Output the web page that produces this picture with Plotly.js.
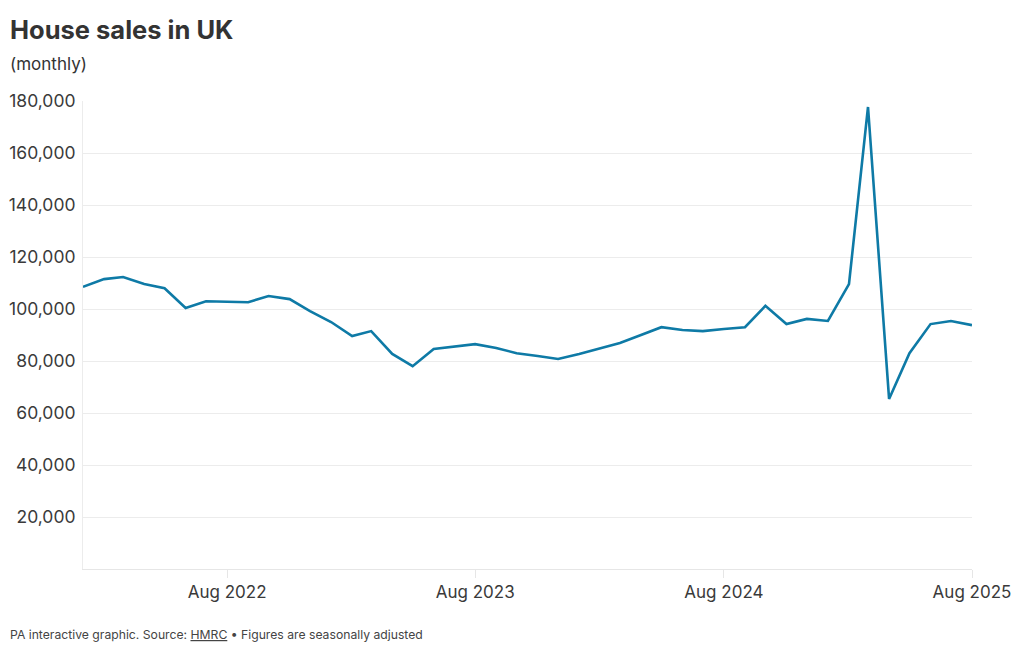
<!DOCTYPE html>
<html>
<head>
<meta charset="utf-8">
<script src="https://cdn.plot.ly/plotly-3.0.1.min.js"></script>
<style>
  html, body { margin: 0; padding: 0; background: #fff; }
  #chart { width: 1020px; height: 650px; }
</style>
</head>
<body>
<div id="chart"></div>
<script>
// Monthly dates Jan 2022 .. Aug 2025
const months = [
  "2022-01-01","2022-02-01","2022-03-01","2022-04-01","2022-05-01","2022-06-01",
  "2022-07-01","2022-08-01","2022-09-01","2022-10-01","2022-11-01","2022-12-01",
  "2023-01-01","2023-02-01","2023-03-01","2023-04-01","2023-05-01","2023-06-01",
  "2023-07-01","2023-08-01","2023-09-01","2023-10-01","2023-11-01","2023-12-01",
  "2024-01-01","2024-02-01","2024-03-01","2024-04-01","2024-05-01","2024-06-01",
  "2024-07-01","2024-08-01","2024-09-01","2024-10-01","2024-11-01","2024-12-01",
  "2025-01-01","2025-02-01","2025-03-01","2025-04-01","2025-05-01","2025-06-01",
  "2025-07-01","2025-08-01"
];
const sales = [
  108500, 111500, 112300, 109600, 108000, 100400,
  103000, 102700, 102600, 105000, 103800, 99200,
  95000, 89600, 91500, 82700, 78000, 84600,
  85400, 86500, 85000, 83000, 81900, 80800,
  82700, 85000, 86900, 90000, 93000, 91900,
  91500, 92300, 93000, 101200, 94200, 96200,
  95400, 109600, 177700, 65400, 83000, 94200,
  95400, 93800
];
const xTickVals = ["2022-08-01","2023-08-01","2024-08-01","2025-08-01"];
const xTickText = ["Aug 2022","Aug 2023","Aug 2024","Aug 2025"];
const yTickVals = [20000,40000,60000,80000,100000,120000,140000,160000,180000];
const yTickText = ["20,000","40,000","60,000","80,000","100,000","120,000","140,000","160,000","180,000"];

const FONT = "Inter, 'Noto Sans', sans-serif";
const L = 83, R = 48, T = 101, B = 81;
const W = 1020 - L - R, H = 650 - T - B;
const px = x => (x - L) / W;
const py = y => (650 - B - y) / H;

const trace = {
  x: months, y: sales, type: "scatter", mode: "lines",
  line: { color: "#0e7aa6", width: 2.6 },
  hoverinfo: "x+y"
};

const layout = {
  width: 1020, height: 650,
  margin: { l: L, r: R, t: T, b: B, pad: 0 },
  paper_bgcolor: "#ffffff", plot_bgcolor: "#ffffff",
  showlegend: false,
  font: { family: FONT, color: "#3a3a3a" },
  xaxis: {
    type: "date",
    range: ["2022-01-01", "2025-08-01"],
    tickmode: "array", tickvals: xTickVals, ticktext: xTickText,
    showgrid: false, zeroline: false,
    showline: true, linecolor: "#e6e6e6", linewidth: 1,
    ticks: "outside", ticklen: 8, tickcolor: "#e6e6e6", tickwidth: 1,
    tickfont: { family: FONT, size: 17, color: "#3a3a3a" },
    fixedrange: true
  },
  yaxis: {
    range: [0, 180000],
    tickmode: "array", tickvals: yTickVals, ticktext: yTickText,
    showgrid: true, gridcolor: "#ececec", gridwidth: 1,
    zeroline: false,
    showline: true, linecolor: "#ececec", linewidth: 1,
    ticks: "", ticklabelstandoff: 3,
    tickfont: { family: FONT, size: 17.5, color: "#3a3a3a" },
    fixedrange: true
  },
  annotations: [
    { text: "<b>House sales in UK</b>", xref: "paper", yref: "paper",
      x: px(8), y: py(29), xanchor: "left", yanchor: "middle", showarrow: false,
      font: { family: FONT, size: 25.5, color: "#333333" } },
    { text: "(monthly)", xref: "paper", yref: "paper",
      x: px(8), y: py(64), xanchor: "left", yanchor: "middle", showarrow: false,
      font: { family: FONT, size: 17, color: "#333333" } },
    { text: "PA interactive graphic. Source: <span style='text-decoration:underline'>HMRC</span> • Figures are seasonally adjusted",
      xref: "paper", yref: "paper",
      x: px(8), y: py(634), xanchor: "left", yanchor: "middle", showarrow: false,
      font: { family: FONT, size: 12.2, color: "#444444" } }
  ]
};

Plotly.newPlot("chart", [trace], layout, { displayModeBar: false, staticPlot: true });
</script>
</body>
</html>
